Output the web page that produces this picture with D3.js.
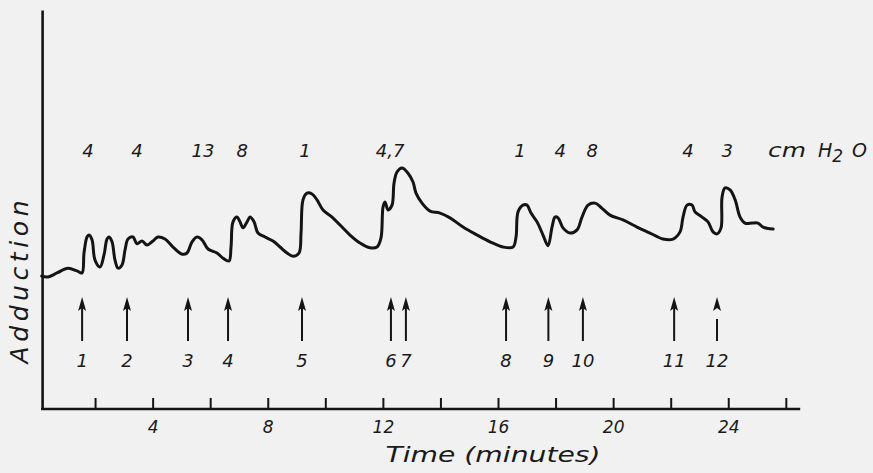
<!DOCTYPE html>
<html>
<head>
<meta charset="utf-8">
<script src="https://cdn.jsdelivr.net/npm/d3@7"></script>
<style>
  html, body { margin: 0; padding: 0; background: #f1f1f1; }
  svg { display: block; }
  text { font-family: "DejaVu Sans", sans-serif; font-style: italic; fill: #1a1a1a; }
</style>
</head>
<body>
<svg id="chart" width="873" height="473"></svg>
<script>
// ---- Data ----
// Recorded adduction trace: time (minutes) and relative adduction level
const traceTime = [0.146,0.365,0.678,1.060,1.372,1.546,1.616,1.720,1.789,1.894,1.998,2.172,2.311,2.415,2.484,2.589,2.693,2.797,2.936,3.040,3.145,3.318,3.457,3.631,3.805,4.013,4.187,4.430,4.708,5.021,5.195,5.369,5.542,5.716,5.925,6.237,6.446,6.654,6.724,6.793,6.932,7.036,7.141,7.280,7.384,7.523,7.662,7.905,8.183,8.426,8.669,8.878,9.086,9.156,9.225,9.364,9.538,9.712,9.920,10.233,10.511,10.858,11.206,11.553,11.796,11.935,12.005,12.074,12.179,12.318,12.387,12.491,12.665,12.873,13.047,13.151,13.360,13.638,13.985,14.333,14.785,15.271,15.723,16.174,16.522,16.626,16.696,16.869,17.008,17.147,17.356,17.564,17.738,17.877,17.981,18.086,18.259,18.502,18.746,18.919,19.128,19.371,19.614,19.892,20.344,20.830,21.282,21.734,22.081,22.324,22.429,22.568,22.741,22.846,23.089,23.297,23.471,23.610,23.749,23.784,23.888,24.062,24.240,24.410,24.580,24.830,25.030,25.210,25.560];
const traceValue = [33.3,33.1,34.1,35.3,34.6,34.1,39.1,43.1,43.6,42.4,37.3,35.6,38.6,42.6,43.1,41.9,37.3,35.3,36.1,39.8,42.6,43.1,41.4,42.1,41.1,42.1,43.1,42.6,40.6,38.8,39.1,41.9,43.1,42.4,40.1,39.1,37.8,37.1,40.6,46.9,48.1,46.9,45.4,46.9,48.1,46.9,44.1,43.1,42.1,40.6,39.1,38.3,39.1,44.1,52.4,54.1,53.9,52.4,49.9,48.1,46.1,43.6,41.6,40.4,40.6,42.9,50.6,51.9,49.9,51.1,56.6,59.4,60.4,59.1,56.9,54.1,51.6,49.6,49.1,47.9,45.6,43.6,41.9,40.6,40.6,43.1,49.4,51.1,51.1,49.1,46.9,43.6,40.9,45.6,48.1,47.9,45.4,44.1,44.9,48.1,51.1,51.6,50.3,48.6,47.4,45.6,44.1,42.6,42.6,44.4,48.1,51.1,51.1,49.4,48.1,46.9,44.4,43.9,45.4,53.1,55.4,54.9,52.4,48.1,46.6,46.6,46.6,45.6,45.1];

// Stimulus arrows (time in minutes) and their numbers
const stimulusTime = [1.55,3.11,5.23,6.62,9.19,12.28,12.80,16.28,17.75,18.95,22.12,23.61];
const stimulusLabel = ["1","2","3","4","5","6","7","8","9","10","11","12"];
const stimulusSplitHead = [false,false,false,false,false,false,false,false,false,false,false,true];

// Pressure annotations (cm H2O) and their positions in time
const pressureTime = [1.75,3.46,5.75,7.11,9.29,12.25,16.76,18.16,19.27,22.60,23.96];
const pressureLabel = ["4","4","13","8","1","4,7","1","4","8","4","3"];

// Axis ticks
const tickValuesAll = [2,4,6,8,10,12,14,16,18,20,22,24,26];
const tickLabelled = [4,8,12,16,20,24];
const xExtent = [0.16, 26.5];
const yExtent = [0, 100];

// ---- Drawing ----
const svg = d3.select("#chart");
const x = d3.scaleLinear().domain([0, 27]).range([37.5, 814.6]);
const y = d3.scaleLinear().domain(yExtent).range([409, 10]);
const ink = "#141414";

// Y axis (plain line, no ticks)
const yAxisG = svg.append("g")
  .attr("transform", `translate(${x(xExtent[0])},0)`)
  .call(d3.axisLeft(y).tickValues([]).tickSizeOuter(0));
yAxisG.select(".domain").attr("stroke", ink).attr("stroke-width", 2.6);

// X axis with upward ticks
const xAxisG = svg.append("g")
  .attr("transform", `translate(0,${y(0)})`)
  .call(d3.axisBottom(x)
    .tickValues(tickValuesAll)
    .tickSize(-11)
    .tickPadding(12)
    .tickFormat(d => tickLabelled.includes(d) ? String(d) : ""));
xAxisG.select(".domain").remove();
xAxisG.selectAll(".tick line").attr("stroke", ink).attr("stroke-width", 2);
xAxisG.selectAll(".tick text")
  .attr("font-size", 17)
  .attr("font-family", "DejaVu Sans, sans-serif")
  .attr("font-style", "italic")
  .attr("fill", ink);
xAxisG.append("line")
  .attr("x1", x(xExtent[0]) - 1).attr("x2", x(xExtent[1]))
  .attr("y1", 0).attr("y2", 0)
  .attr("stroke", ink).attr("stroke-width", 2.6);

// Axis titles
svg.append("text")
  .attr("x", 493).attr("y", 462)
  .attr("text-anchor", "middle")
  .attr("font-size", 21)
  .attr("textLength", 215).attr("lengthAdjust", "spacingAndGlyphs")
  .text("Time (minutes)");

svg.append("text")
  .attr("transform", "translate(28,282) rotate(-90)")
  .attr("text-anchor", "middle")
  .attr("font-size", 25)
  .attr("textLength", 163).attr("lengthAdjust", "spacing")
  .text("Adduction");

// Trace
const pts = traceTime.map((t, i) => [t, traceValue[i]]);
svg.append("path")
  .datum(pts)
  .attr("fill", "none")
  .attr("stroke", ink)
  .attr("stroke-width", 3)
  .attr("stroke-linejoin", "round")
  .attr("stroke-linecap", "round")
  .attr("d", d3.line().x(d => x(d[0])).y(d => y(d[1])).curve(d3.curveCatmullRom.alpha(0.5)));

// Pressure labels
svg.selectAll("text.pressure")
  .data(pressureTime)
  .join("text")
  .attr("class", "pressure")
  .attr("x", d => x(d))
  .attr("y", 157)
  .attr("text-anchor", "middle")
  .attr("font-size", 18)
  .text((d, i) => pressureLabel[i]);

const unit = svg.append("text").attr("y", 157).attr("font-size", 19);
unit.append("tspan").attr("x", 768).attr("textLength", 38).attr("lengthAdjust", "spacingAndGlyphs").text("cm");
unit.append("tspan").attr("x", 818).text("H");
unit.append("tspan").attr("dy", 5).attr("font-size", 17).text("2");
unit.append("tspan").attr("x", 852).attr("dy", -5).text("O");

// Stimulus arrows
const arrows = svg.selectAll("g.arrow")
  .data(stimulusTime)
  .join("g")
  .attr("class", "arrow")
  .attr("transform", d => `translate(${x(d)},0)`);
arrows.append("line")
  .attr("x1", 0).attr("x2", 0)
  .attr("y1", (d, i) => stimulusSplitHead[i] ? 319 : 306)
  .attr("y2", 341)
  .attr("stroke", ink).attr("stroke-width", 2);
arrows.append("path")
  .attr("d", "M0,297 L4,311 L0,308 L-4,311 Z")
  .attr("fill", ink);
arrows.append("text")
  .attr("y", 367)
  .attr("text-anchor", "middle")
  .attr("font-size", 18)
  .text((d, i) => stimulusLabel[i]);
</script>
</body>
</html>
